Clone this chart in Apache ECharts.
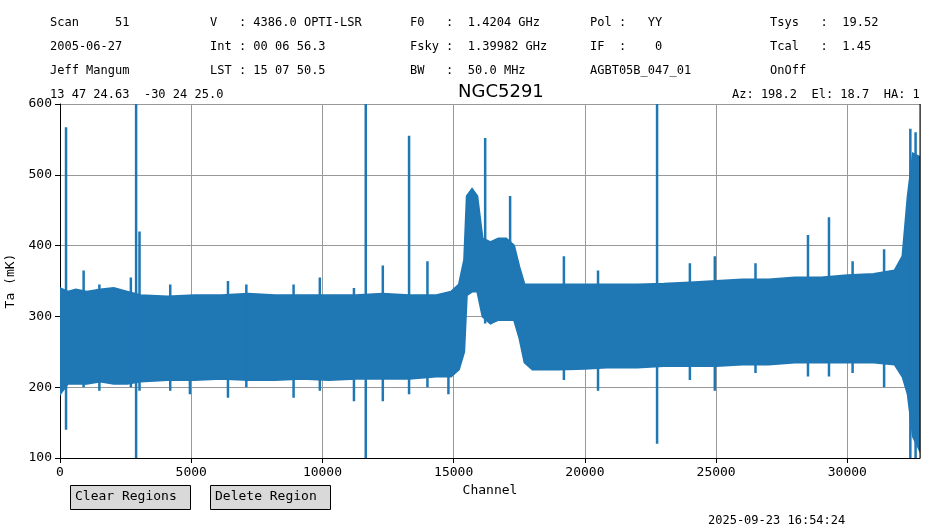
<!DOCTYPE html><html><head><meta charset="utf-8">
<script src="https://cdn.jsdelivr.net/npm/echarts@6/dist/echarts.min.js"></script>
<style>html,body{margin:0;padding:0;background:#fff}#c{width:929px;height:531px}</style></head><body><div id="c"></div>
<script>
// band envelope (channel, upper, lower)
const bandX     = [0,300,600,1024,1536,2048,2560,3072,4096,5120,6144,7168,8192,9216,10240,11264,12288,13312,14336,14900,15200,15400,15500,15700,15900,16100,16400,16700,17000,17300,17500,17700,18000,19000,20000,21000,22000,23000,24000,25000,26000,27000,28000,29000,30000,31000,31800,32100,32300,32500,32768];
const bandUpper = [340,335,338,335,338,340,335,330,328,330,330,332,330,330,330,330,332,330,330,335,345,380,470,480,470,410,405,410,410,400,370,345,345,345,345,345,345,346,348,350,352,352,355,355,358,360,365,385,470,530,525];
const bandLower = [190,205,205,205,208,205,205,208,210,210,212,210,210,212,210,212,212,212,215,215,225,250,330,335,335,300,290,295,295,295,270,235,225,225,226,228,228,230,230,230,232,232,235,235,235,235,232,215,190,130,110];
// spikes
const spikeX  = [230,2900,3030,900,1500,2700,4200,4950,6400,7100,8900,9900,11200,11650,12300,13300,14000,14800,16200,17150,19200,20500,22750,24000,24950,26500,28500,29300,30200,31400,32400,32600];
const spikeHi = [567,600,420,365,345,355,345,330,350,345,345,355,340,600,372,555,378,330,552,470,385,365,600,375,385,375,415,440,378,395,565,560];
const spikeLo = [140,100,195,200,195,200,195,190,185,200,185,195,180,100,180,190,200,190,290,300,210,195,120,210,195,220,215,215,220,200,100,100];

const chart = echarts.init(document.getElementById('c'));
const band = bandX.map((x,i)=>[x,bandUpper[i],bandLower[i]]);
const spikes = [];
spikeX.forEach((x,i)=>{spikes.push([x,spikeLo[i]],[x,spikeHi[i]],null);});
const mono = 'DejaVu Sans Mono';
const t = (x,y,s)=>({type:'text',left:x,top:y,style:{text:s,font:'12px "DejaVu Sans Mono"',fill:'#000'}});
chart.setOption({
  animation:false,
  grid:{left:60,right:9,top:104,bottom:73,outerBoundsMode:'none',containLabel:false},
  xAxis:{type:'value',min:0,max:32768,interval:5000,name:'Channel',nameLocation:'middle',nameGap:24,
    nameTextStyle:{fontFamily:mono,fontSize:13,color:'#000'},
    axisLine:{lineStyle:{color:'#000'}},axisTick:{show:true,lineStyle:{color:'#000'}},
    axisLabel:{fontFamily:mono,fontSize:13,color:'#000',showMaxLabel:false,formatter:v=>String(v)},
    splitLine:{lineStyle:{color:'#999'}}},
  yAxis:{type:'value',min:100,max:600,interval:100,name:'Ta (mK)',nameLocation:'middle',nameGap:40,
    nameTextStyle:{fontFamily:mono,fontSize:13,color:'#000'},
    axisLine:{show:true,lineStyle:{color:'#000'}},axisTick:{show:true,lineStyle:{color:'#000'}},
    axisLabel:{fontFamily:mono,fontSize:13,color:'#000'},
    splitLine:{lineStyle:{color:'#999'}}},
  series:[
    {type:'custom',data:[0],clip:true,renderItem:(p,api)=>{
      const pts=[];band.forEach(b=>pts.push(api.coord([b[0],b[1]])));
      for(let i=band.length-1;i>=0;i--)pts.push(api.coord([band[i][0],band[i][2]]));
      return {type:'polygon',shape:{points:pts},style:{fill:'#1f77b4',stroke:'#1f77b4',lineWidth:2}};
    }},
    {type:'line',data:spikes,showSymbol:false,connectNulls:false,clip:true,lineStyle:{color:'#1f77b4',width:2.5}},
    {type:'line',data:[[32768,100],[32768,600]],showSymbol:false,lineStyle:{color:'#000',width:1}},
  ],
  graphic:[
    t(50,17,'Scan     51'),t(210,17,'V   : 4386.0 OPTI-LSR'),t(410,17,'F0   :  1.4204 GHz'),t(590,17,'Pol :   YY'),t(770,17,'Tsys   :  19.52'),
    t(50,41,'2005-06-27'),t(210,41,'Int : 00 06 56.3'),t(410,41,'Fsky :  1.39982 GHz'),t(590,41,'IF  :    0'),t(770,41,'Tcal   :  1.45'),
    t(50,65,'Jeff Mangum'),t(210,65,'LST : 15 07 50.5'),t(410,65,'BW   :  50.0 MHz'),t(590,65,'AGBT05B_047_01'),t(770,65,'OnOff'),
    t(50,89,'13 47 24.63  -30 24 25.0'),t(732,89,'Az: 198.2  El: 18.7  HA: 1'),
    {type:'text',left:458,top:83,style:{text:'NGC5291',font:'18px "DejaVu Sans"',fill:'#000'}},
    {type:'rect',left:70,top:485,shape:{width:120,height:24},style:{fill:'#d9d9d9',stroke:'#000',lineWidth:1}},
    {type:'rect',left:210,top:485,shape:{width:120,height:24},style:{fill:'#d9d9d9',stroke:'#000',lineWidth:1}},
    {type:'text',left:75,top:490,style:{text:'Clear Regions',font:'13px "DejaVu Sans Mono"',fill:'#000'}},
    {type:'text',left:215,top:490,style:{text:'Delete Region',font:'13px "DejaVu Sans Mono"',fill:'#000'}},
    t(708,515,'2025-09-23 16:54:24')
  ]
});
</script></body></html>
